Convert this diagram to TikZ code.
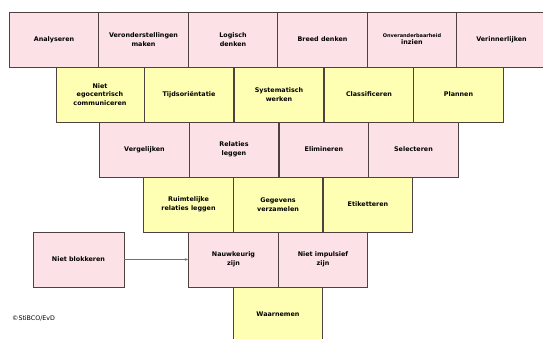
\documentclass[tikz,border=0pt]{standalone}
\usepackage{fontspec}
\setmainfont{DejaVu Sans}
\usetikzlibrary{arrows.meta}
\definecolor{roze}{RGB}{252,226,230}
\definecolor{geel}{RGB}{255,255,180}
\definecolor{rand}{RGB}{80,65,65}
\definecolor{pijl}{RGB}{70,135,125}
\begin{document}
\begin{tikzpicture}[x=1pt,y=-1pt,
    blok/.style={draw=rand,line width=0.9pt,minimum width=89.5pt,minimum height=55pt,
        inner sep=1pt,align=center,font=\fontsize{6.4}{8.5}\selectfont\bfseries},
    rblok/.style={blok,fill=roze},
    gblok/.style={blok,fill=geel}]
    \useasboundingbox (0,0) rectangle (543,338);
    % bovenste rij
    \node[rblok] (analyseren) at (54,39.5) {Analyseren};
    \node[rblok] (veronder) at (143.5,39.5) {Veronderstellingen\\maken};
    \node[rblok] (logisch) at (233,39.5) {Logisch\\denken};
    \node[rblok] (breed) at (322.5,39.5) {Breed denken};
    \node[rblok,font=\fontsize{5}{7}\selectfont\bfseries] (onver) at (412,39.5) {Onveranderbaarheid\\{\fontsize{6.4}{8.5}\selectfont inzien}};
    \node[rblok] (verinner) at (501.5,39.5) {Verinnerlijken};
    % tweede rij
    \node[gblok,minimum width=88pt] (egocentr) at (100,94.5) {Niet\\egocentrisch\\communiceren};
    \node[gblok] (tijd) at (189,94.5) {Tijdsoriëntatie};
    \node[gblok] (systemat) at (279,94.5) {Systematisch\\werken};
    \node[gblok] (classif) at (369,94.5) {Classificeren};
    \node[gblok] (plannen) at (458.5,94.5) {Plannen};
    % derde rij
    \node[rblok] (vergelijk) at (144.5,149.5) {Vergelijken};
    \node[rblok] (relaties) at (234,149.5) {Relaties\\leggen};
    \node[rblok] (elimin) at (324,149.5) {Elimineren};
    \node[rblok] (select) at (413.5,149.5) {Selecteren};
    % vierde rij
    \node[gblok] (ruimte) at (188.5,204.5) {Ruimtelijke\\relaties leggen};
    \node[gblok] (gegevens) at (278,204.5) {Gegevens\\verzamelen};
    \node[gblok] (etiket) at (368,204.5) {Etiketteren};
    % vijfde rij
    \node[rblok,minimum width=91pt] (blokkeren) at (78.5,259.5) {Niet blokkeren};
    \node[rblok] (nauwk) at (233.5,259.5) {Nauwkeurig\\zijn};
    \node[rblok] (impuls) at (323,259.5) {Niet impulsief\\zijn};
    % onderste rij
    \node[gblok] (waarnemen) at (278,314.5) {Waarnemen};
    \draw[pijl,line width=0.6pt,-{Stealth[length=3.5pt,width=2.5pt]}] (blokkeren.east) -- (nauwk.west);
    \node[anchor=west,inner sep=0pt,font=\fontsize{6.3}{8}\selectfont] (copy) at (12,318) {©StiBCO/EvD};
\end{tikzpicture}
\end{document}
